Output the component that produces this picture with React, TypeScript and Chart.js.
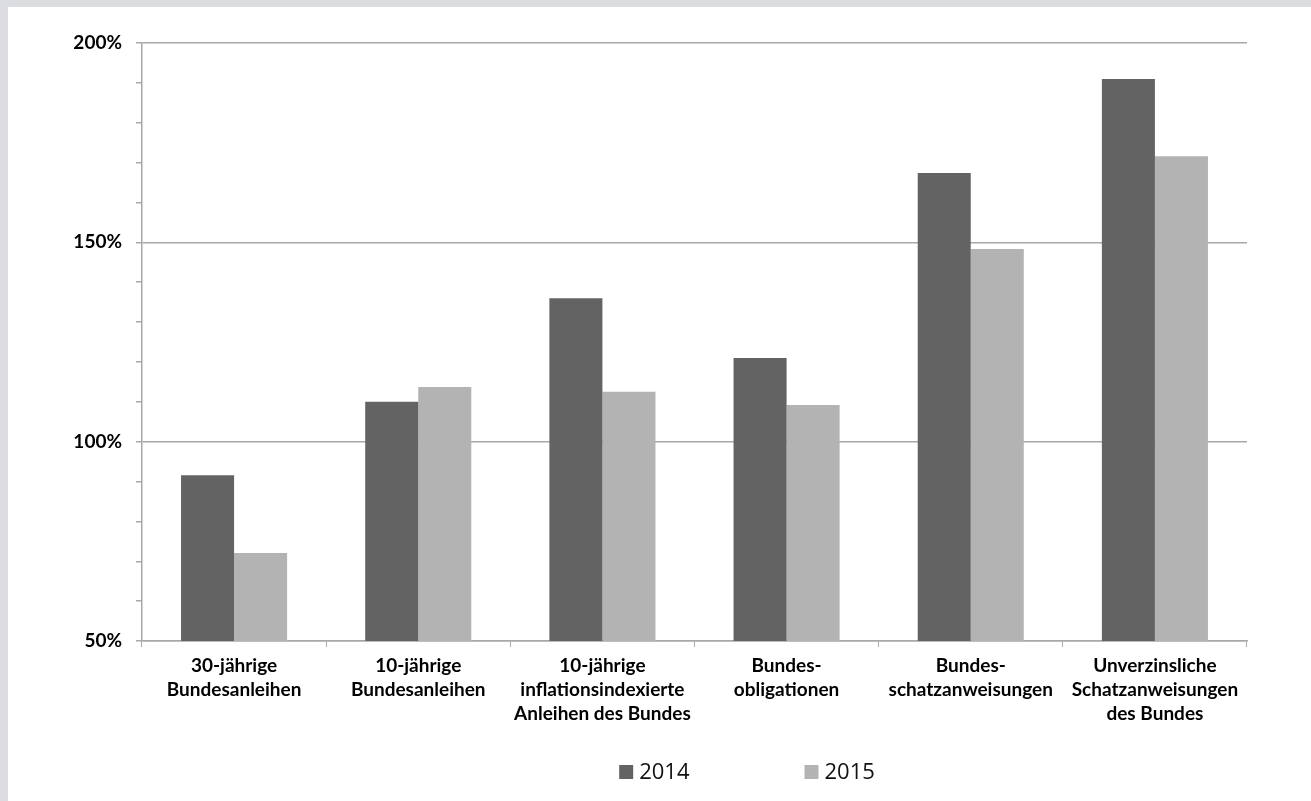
import React, { useEffect, useRef } from "react";
import { Chart, registerables } from "chart.js";

Chart.register(...registerables);

const categories: string[][] = [
  ["30-jährige", "Bundesanleihen"],
  ["10-jährige", "Bundesanleihen"],
  ["10-jährige", "inflationsindexierte", "Anleihen des Bundes"],
  ["Bundes-", "obligationen"],
  ["Bundes-", "schatzanweisungen"],
  ["Unverzinsliche", "Schatzanweisungen", "des Bundes"],
];

const values2014: number[] = [91.6, 110.0, 136.0, 121.0, 167.4, 191.0];
const values2015: number[] = [72.1, 113.7, 112.5, 109.2, 148.3, 171.6];

const seriesLabels: string[] = ["2014", "2015"];
const seriesColors: string[] = ["#636363", "#b3b3b3"];

const yMin = 50;
const yMax = 200;
const yMajorStep = 50;
const yMinorStep = 10;

const GRID = "#a8a8a8";
const LABEL_FONT = "Lato, 'Open Sans', sans-serif";

// Legend drawn centred under the plot, square swatches followed by the year.
const legendPlugin = {
  id: "bottomLegend",
  afterDraw(chart: Chart) {
    const { ctx } = chart;
    const box = 14;
    const gap = 6;
    const spacing = 115;
    ctx.save();
    ctx.font = `22px 'Open Sans', sans-serif`;
    ctx.textBaseline = "middle";
    const widths = chart.data.datasets.map(
      (ds) => box + gap + ctx.measureText(String(ds.label)).width
    );
    const total = widths.reduce((a, b) => a + b, 0) + spacing * (widths.length - 1);
    const cx = 739;
    const cy = 765;
    let x = cx - total / 2;
    chart.data.datasets.forEach((ds, i) => {
      ctx.fillStyle = ds.backgroundColor as string;
      ctx.fillRect(x, cy - box / 2, box, box);
      ctx.fillStyle = "#111";
      ctx.fillText(String(ds.label), x + box + gap, cy + 1);
      x += widths[i] + spacing;
    });
    ctx.restore();
  },
};

function BarChart() {
  const canvasRef = useRef<HTMLCanvasElement | null>(null);

  useEffect(() => {
    if (!canvasRef.current) return;
    const chart = new Chart(canvasRef.current, {
      type: "bar",
      data: {
        labels: categories,
        datasets: [
          {
            label: seriesLabels[0],
            data: values2014,
            backgroundColor: seriesColors[0],
            categoryPercentage: 0.576,
            barPercentage: 1.0,
          },
          {
            label: seriesLabels[1],
            data: values2015,
            backgroundColor: seriesColors[1],
            categoryPercentage: 0.576,
            barPercentage: 1.0,
          },
        ],
      },
      options: {
        animation: false,
        responsive: false,
        layout: { padding: { left: 0, right: 64, top: 36, bottom: 30 } },
        plugins: {
          legend: { display: false },
          tooltip: { enabled: false },
        },
        scales: {
          x: {
            grid: {
              offset: true,
              drawOnChartArea: false,
              drawTicks: true,
              tickLength: 6,
              tickColor: GRID,
            },
            border: { color: GRID, width: 1.5 },
            ticks: {
              color: "#000",
              maxRotation: 0,
              autoSkip: false,
              padding: 7,
              font: { family: LABEL_FONT, size: 19, weight: "bold", lineHeight: 1.27 },
            },
            afterFit(scale) {
              scale.height = 130;
            },
          },
          y: {
            min: yMin,
            max: yMax,
            grid: {
              color: (c) =>
                c.tick && c.tick.value % yMajorStep === 0 ? GRID : "rgba(0,0,0,0)",
              lineWidth: 1.5,
              tickColor: GRID,
              tickLength: 6,
            },
            border: { color: GRID, width: 1.5 },
            ticks: {
              stepSize: yMinorStep,
              autoSkip: false,
              color: "#000",
              padding: 14,
              font: { family: LABEL_FONT, size: 19, weight: "bold" },
              callback: (v) => (Number(v) % yMajorStep === 0 ? `${v}%` : ""),
            },
            afterFit(scale) {
              scale.width = 134;
            },
          },
        },
      },
      plugins: [legendPlugin],
    });
    return () => chart.destroy();
  }, []);

  return <canvas ref={canvasRef} width={1303} height={794} style={{ display: "block" }} />;
}

export default function App() {
  return (
    <div
      style={{
        position: "fixed",
        inset: 0,
        background: "#dcdde0",
      }}
    >
      <div
        style={{
          position: "absolute",
          left: 8,
          top: 7,
          width: 1303,
          height: 794,
          background: "#fff",
        }}
      >
        <BarChart />
      </div>
    </div>
  );
}
